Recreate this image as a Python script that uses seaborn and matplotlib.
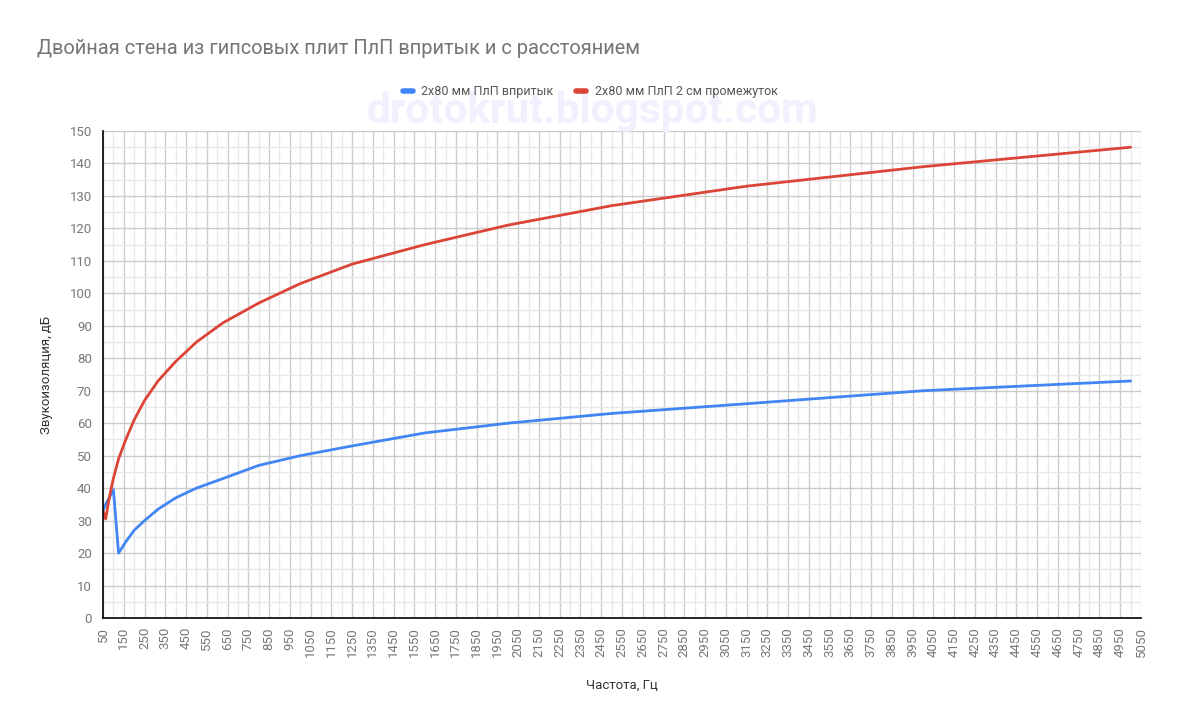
import matplotlib
matplotlib.use("Agg")
import matplotlib.pyplot as plt
from matplotlib.lines import Line2D
from matplotlib.ticker import MultipleLocator
import seaborn as sns
import pandas as pd
import numpy as np

freqs = [50, 63, 80, 100, 125, 160, 200, 250, 315, 400, 500, 630, 800,
         1000, 1250, 1600, 2000, 2500, 3150, 4000, 5000]
blue_vals = [33, 35, 37, 39.5, 20, 23.5, 27, 30, 33.5, 37, 40, 43, 47,
             50, 53, 57, 60, 63, 66, 70, 73]
red_vals = [33, 30.5, 37, 43, 49, 55, 61, 67, 73, 79, 85, 91, 97,
            103, 109, 115, 121, 127, 133, 139, 145]
series_names = ["2x80 мм ПлП впритык", "2x80 мм ПлП 2 см промежуток"]
colors = ["#4285F4", "#DB4437"]
title = "Двойная стена из гипсовых плит ПлП впритык и с расстоянием"
xlabel = "Частота, Гц"
ylabel = "Звукоизоляция, дБ"
watermark = "drotokrut.blogspot.com"

df = pd.DataFrame({
    "freq": freqs * 2,
    "val": blue_vals + red_vals,
    "series": [series_names[0]] * len(freqs) + [series_names[1]] * len(freqs),
})

sns.set_style("white")
plt.rcParams['font.family'] = ['Roboto', 'DejaVu Sans']

fig = plt.figure(figsize=(11.78, 7.28), dpi=100)
ax = fig.add_axes([103/1178, 1-618/728, (1141-103)/1178, (618-131)/728])

sns.lineplot(data=df, x="freq", y="val", hue="series", palette=colors,
             ax=ax, linewidth=2, legend=False, sort=False, estimator=None)

ax.set_xlim(50, 5050)
ax.set_ylim(0, 150)
ax.set_xticks(np.arange(50, 5051, 100))
ax.xaxis.set_minor_locator(MultipleLocator(50))
ax.yaxis.set_major_locator(MultipleLocator(10))
ax.yaxis.set_minor_locator(MultipleLocator(5))
ax.set_axisbelow(True)
ax.grid(which='major', color='#cccccc', linewidth=1)
ax.grid(which='minor', color='#e8e8e8', linewidth=1)
for s in ['top', 'right']:
    ax.spines[s].set_visible(False)
for s in ['left', 'bottom']:
    ax.spines[s].set_color('black')
    ax.spines[s].set_linewidth(1.2)
    ax.spines[s].set_zorder(5)
ax.tick_params(which='major', direction='inout', length=9, width=1.2, color='black',
               labelsize=9.5, labelcolor='#777777')
ax.tick_params(which='minor', direction='inout', length=5, width=1, color='black')
ax.tick_params(axis='x', which='major', labelrotation=90, pad=2)

ax.set_xlabel(xlabel, fontsize=9.5, color='#333333', labelpad=16)
ax.set_ylabel(ylabel, fontsize=9.5, color='#333333', labelpad=12)

fig.text(37/1178, 1-48/728, title, fontsize=14.4, color='#757575', va='center', ha='left')
fig.text(592/1178, 1-111/728, watermark, fontsize=30.5, fontweight='bold',
         color='#f0f0ff', ha='center', va='center', zorder=0)

handles = [Line2D([0], [0], color=c, linewidth=4) for c in colors]
fig.legend(handles, series_names, loc='center', bbox_to_anchor=(590/1178, 1-92/728),
           ncol=2, frameon=False, fontsize=9, handlelength=0.8, columnspacing=1.8,
           handletextpad=0.7, labelcolor='#555555')

fig.savefig("out.png", dpi=100)
